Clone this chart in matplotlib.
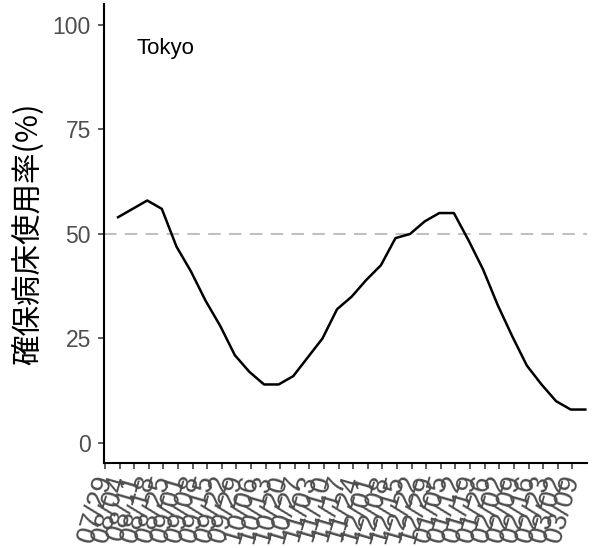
import matplotlib
matplotlib.use("Agg")
import matplotlib.pyplot as plt
import matplotlib.transforms as mtransforms
import numpy as np

# weekly bed-usage values (Tokyo)
dates = ["07/29", "08/04", "08/11", "08/18", "08/25", "09/01", "09/08", "09/15",
         "09/22", "09/29", "10/06", "10/13", "10/20", "10/27", "11/03", "11/10",
         "11/17", "11/24", "12/01", "12/08", "12/15", "12/22", "12/29", "01/05",
         "01/12", "01/19", "01/26", "02/02", "02/09", "02/16", "02/23", "03/02",
         "03/09"]
usage = [54, 56, 58, 56, 47, 41, 34, 28, 21, 17, 14, 14, 16, 20.5, 25, 32,
         35, 39, 42.5, 49, 50, 53, 55, 55, 48.5, 41.5, 33, 25.5, 18.5, 14, 10, 8, 8]
threshold = 50
region = "Tokyo"

fig = plt.figure(figsize=(5.96, 5.48), dpi=100)
ax = fig.add_axes([0.1745, 0.155, 0.8105, 0.8377])

x = np.arange(len(usage))
ax.axhline(threshold, color="#C0C0C0", lw=1.5, ls=(0, (6, 4)), zorder=1)
ax.plot(x, usage, color="black", lw=1.8, zorder=2)

ax.set_ylim(-4.8, 105)
ax.set_xlim(-0.96, len(usage) - 0.88)
ax.set_yticks([0, 25, 50, 75, 100])

tick_shift = 0.89
ax.set_xticks(x - tick_shift)
ax.set_xticklabels(dates, rotation=74, ha="right", va="center",
                   rotation_mode="anchor")
off = mtransforms.ScaledTranslation(17 / 100, 0, fig.dpi_scale_trans)
for lab in ax.get_xticklabels():
    lab.set_transform(lab.get_transform() + off)
    lab.set_fontsize(20)

for lab in ax.get_yticklabels():
    lab.set_fontsize(16.5)

for lab in ax.get_xticklabels() + ax.get_yticklabels():
    lab.set_family("Liberation Sans")
    lab.set_color("#4D4D4D")

ax.tick_params(axis="both", length=4.5, width=1.1, color="#333333")
ax.tick_params(axis="y", pad=5)
ax.tick_params(axis="x", pad=4)

for s in ["top", "right"]:
    ax.spines[s].set_visible(False)
for s in ["left", "bottom"]:
    ax.spines[s].set_linewidth(1.5)

ax.set_ylabel("確保病床使用率(%)", fontsize=22, family=["Noto Sans CJK JP", "DejaVu Sans"],
              labelpad=6)

ax.text(0.068, 0.904, region, transform=ax.transAxes, fontsize=16,
        family="Liberation Sans", ha="left", va="center")

fig.savefig("out.png", dpi=100)
